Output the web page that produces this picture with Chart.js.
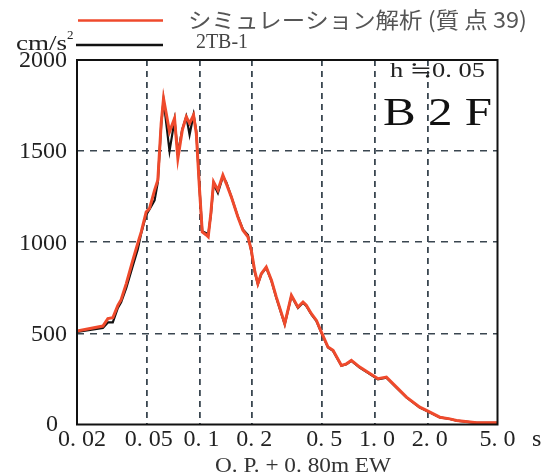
<!DOCTYPE html>
<html>
<head>
<meta charset="utf-8">
<script src="https://cdn.jsdelivr.net/npm/chart.js@4.4.1/dist/chart.umd.min.js"></script>
<style>
  body { margin: 0; background: #fff; }
  #wrap { width: 555px; height: 476px; }
</style>
</head>
<body>
<div id="wrap"><canvas id="spec" width="555" height="476"></canvas></div>
<script>
// periods (s)
const periods = [0.02, 0.0281, 0.0300, 0.0320, 0.0342, 0.0357, 0.0382, 0.0416, 0.0444, 0.0465,
  0.0496, 0.0518, 0.0554, 0.0578, 0.0604, 0.0623, 0.0674, 0.0720, 0.0752, 0.0797,
  0.0840, 0.0877, 0.0924, 0.0958, 0.1000, 0.1036, 0.1092, 0.1120, 0.1160, 0.1202,
  0.1272, 0.1358, 0.1420, 0.1517, 0.1654, 0.1767, 0.1887, 0.1973, 0.206, 0.215,
  0.225, 0.240, 0.257, 0.274, 0.306, 0.334, 0.364, 0.389, 0.406, 0.434,
  0.464, 0.495, 0.540, 0.577, 0.644, 0.688, 0.734, 0.819, 0.975, 1.041,
  1.163, 1.327, 1.513, 1.802, 1.967, 2.344, 2.673, 2.919, 3.80, 5.0];

// シミュレーション解析 (質点 39)
const simValues = [513, 540, 581, 586, 654, 685, 773, 901, 993, 1057,
  1166, 1185, 1286, 1340, 1652, 1789, 1606, 1680, 1460, 1615,
  1688, 1652, 1698, 1597, 1286, 1057, 1040, 1030, 1160, 1331,
  1286, 1368, 1322, 1249, 1139, 1066, 1029, 956, 846, 773,
  828, 864, 791, 699, 553, 709, 644, 672, 655, 608,
  571, 507, 425, 407, 324, 333, 352, 315, 269, 251,
  260, 205, 150, 95, 77, 40, 31, 22, 10, 10];

// 2TB-1 (observed)
const obsValues = [508, 530, 560, 560, 640, 670, 750, 870, 960, 1050,
  1150, 1180, 1230, 1330, 1640, 1780, 1500, 1670, 1490, 1620,
  1690, 1590, 1700, 1610, 1290, 1060, 1050, 1040, 1150, 1320,
  1270, 1360, 1330, 1250, 1140, 1070, 1040, 950, 840, 770,
  825, 860, 788, 695, 550, 705, 640, 668, 650, 604,
  568, 503, 422, 404, 322, 330, 349, 312, 266, 248,
  257, 202, 148, 93, 75, 39, 30, 21, 9, 9];

const xTickValues = [0.02, 0.05, 0.1, 0.2, 0.5, 1, 2, 5];
const xTickLabels = ['0. 02', '0. 05', '0. 1', '0. 2', '0. 5', '1. 0', '2. 0', '5. 0'];
const xGridValues = [0.05, 0.1, 0.2, 0.5, 1, 2];
const yTickValues = [0, 500, 1000, 1500, 2000];
const yTickLabels = ['0', '500', '1000', '1500', '2000'];
const yGridValues = [500, 1000, 1500];

const seriesNames = ['シミュレーション解析 (質 点 39)', '2TB-1'];
const seriesColors = ['#ef4a2c', '#111111'];

const SERIF = '"Liberation Serif", "DejaVu Serif", serif';
const GRID = '#3a4650';

function txt(ctx, s, x, y, font, color, align, width) {
  ctx.save();
  ctx.font = font;
  ctx.fillStyle = color;
  ctx.textBaseline = 'middle';
  ctx.textAlign = 'left';
  const w = ctx.measureText(s).width;
  const sx = width ? width / w : 1;
  const realW = w * sx;
  let left = x;
  if (align === 'center') left = x - realW / 2;
  if (align === 'right') left = x - realW;
  ctx.translate(left, y);
  ctx.scale(sx, 1);
  ctx.fillText(s, 0, 0);
  ctx.restore();
}

const decor = {
  id: 'decor',
  afterDraw(chart) {
    const ctx = chart.ctx;
    const a = chart.chartArea;
    const xs = chart.scales.x, ys = chart.scales.y;

    // frame
    ctx.save();
    ctx.strokeStyle = '#111';
    ctx.lineWidth = 2;
    ctx.strokeRect(a.left, a.top, a.right - a.left, a.bottom - a.top);
    ctx.restore();

    // y tick labels
    yTickValues.forEach((v, i) => {
      const py = ys.getPixelForValue(v);
      if (v === 0) txt(ctx, yTickLabels[i], 58, py, '24px ' + SERIF, '#222', 'right');
      else txt(ctx, yTickLabels[i], 67, py + 1, '24px ' + SERIF, '#222', 'right');
    });

    // x tick labels
    xTickValues.forEach((v, i) => {
      let px = xs.getPixelForValue(v);
      if (i === 0) px += 5;
      else if (i < xTickValues.length - 1) px += 2;
      txt(ctx, xTickLabels[i], px, 440, '24px ' + SERIF, '#222', 'center');
    });
    txt(ctx, 's', 532, 440, '24px ' + SERIF, '#222', 'left');

    // axis title
    txt(ctx, 'O. P. + 0. 80m EW', 303, 466, '22px ' + SERIF, '#333', 'center', 176);

    // unit
    txt(ctx, 'cm/s', 16, 44, '21px ' + SERIF, '#222', 'left', 51);
    txt(ctx, '2', 67, 36, '13px ' + SERIF, '#222', 'left');

    // legend
    ctx.save();
    ctx.lineWidth = 2.5;
    ctx.strokeStyle = seriesColors[0];
    ctx.beginPath(); ctx.moveTo(78, 20.5); ctx.lineTo(163, 20.5); ctx.stroke();
    ctx.strokeStyle = seriesColors[1];
    ctx.beginPath(); ctx.moveTo(76, 45); ctx.lineTo(163, 45); ctx.stroke();
    ctx.restore();
    txt(ctx, seriesNames[0], 188, 20, '22px "Noto Sans CJK JP"', '#555', 'left', 339);
    txt(ctx, seriesNames[1], 196, 42, '22px ' + SERIF, '#444', 'left', 52);

    // annotations
    txt(ctx, 'h ≒0. 05', 390, 71, '21px ' + SERIF, '#222', 'left', 95);
    txt(ctx, 'B 2 F', 383, 114, '40px ' + SERIF, '#111', 'left', 109);
  }
};

new Chart(document.getElementById('spec'), {
  type: 'line',
  data: {
    datasets: [
      {
        label: seriesNames[0],
        data: periods.map((p, i) => ({ x: p, y: simValues[i] })),
        borderColor: seriesColors[0],
        borderWidth: 3,
        pointRadius: 0,
        tension: 0,
      },
      {
        label: seriesNames[1],
        data: periods.map((p, i) => ({ x: p, y: obsValues[i] })),
        borderColor: seriesColors[1],
        borderWidth: 2.2,
        pointRadius: 0,
        tension: 0,
      },
    ],
  },
  options: {
    responsive: false,
    animation: false,
    layout: { padding: { left: 77, right: 57.5, top: 60, bottom: 51.5 } },
    plugins: { legend: { display: false }, tooltip: { enabled: false } },
    scales: {
      x: {
        type: 'logarithmic',
        min: 0.02,
        max: 5,
        afterBuildTicks: (scale) => { scale.ticks = xGridValues.map(v => ({ value: v })); },
        ticks: { display: false },
        grid: { drawTicks: false, color: GRID, lineWidth: 1.8 },
        border: { display: false, dash: [6, 5] },
      },
      y: {
        min: 0,
        max: 2000,
        afterBuildTicks: (scale) => { scale.ticks = yGridValues.map(v => ({ value: v })); },
        ticks: { display: false },
        grid: { drawTicks: false, color: GRID, lineWidth: 1.6 },
        border: { display: false, dash: [7, 6] },
      },
    },
  },
  plugins: [decor],
});
</script>
</body>
</html>
